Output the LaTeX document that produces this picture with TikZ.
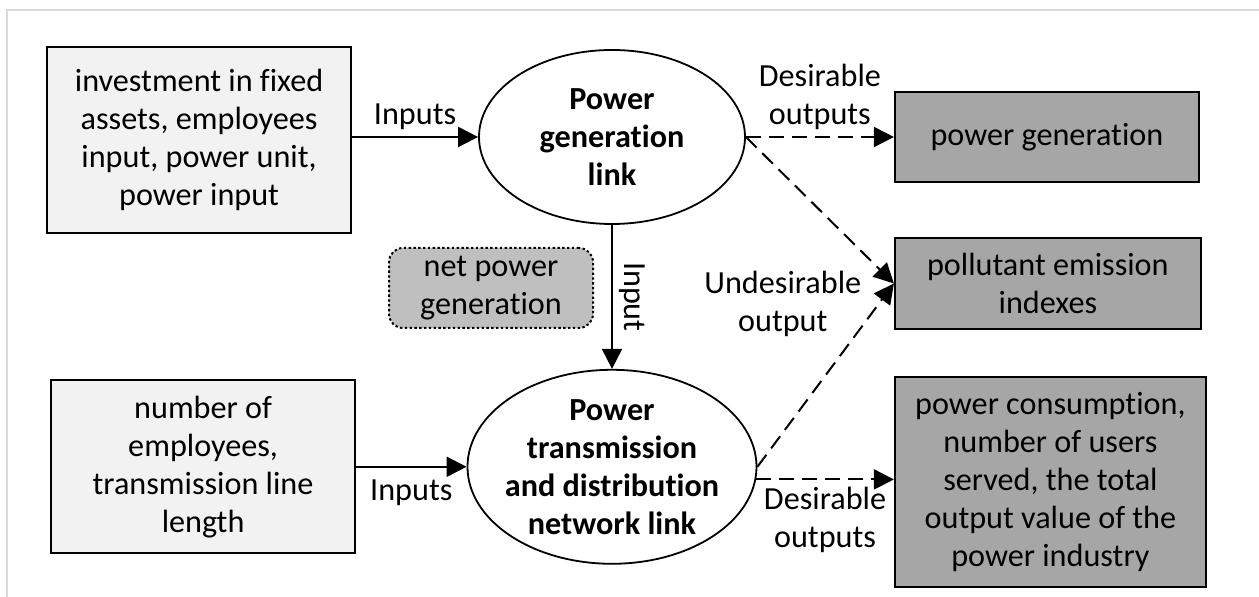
\documentclass[tikz,border=0pt]{standalone}
\usepackage{fontspec}
\setmainfont{Carlito}[Ligatures=NoCommon]
\usetikzlibrary{positioning, shapes.geometric, arrows.meta}

\definecolor{inputgray}{HTML}{F2F2F2}
\definecolor{outputgray}{HTML}{A6A6A6}
\definecolor{netgray}{HTML}{BFBFBF}
\definecolor{framegray}{HTML}{D9D9D9}

\begin{document}
\begin{tikzpicture}[x=0.5pt, y=-0.5pt, font=\fontsize{16.1}{19}\selectfont,
  inbox/.style={draw, line width=1pt, rectangle, fill=inputgray, align=center, minimum width=152pt, inner sep=0pt},
  outbox/.style={draw, line width=1pt, rectangle, fill=outputgray, align=center, inner sep=0pt},
  linknode/.style={draw, line width=0.9pt, ellipse, align=center, inner sep=-4pt, font=\fontsize{16.1}{19}\selectfont\bfseries},
  netbox/.style={draw, line width=1pt, rectangle, rounded corners=7pt, dash pattern=on 1.2pt off 1.2pt, fill=netgray, align=center, minimum width=102pt, minimum height=40pt},
  flow/.style={-{Triangle[length=10pt, width=10pt]}, line width=1pt},
  dflow/.style={flow, dash pattern=on 7.5pt off 4pt}]
  \useasboundingbox (0,0) rectangle (1259,597);
  \draw[framegray, line width=1pt] (7,597) -- (7,10) -- (1259,10);

  % the two links
  \node[linknode, minimum width=133pt, minimum height=87pt] (gen) at (612,137) {Power\\generation\\link};
  \node[linknode, minimum width=144.5pt, minimum height=97pt] (grid) [below=72pt of gen] {Power\\transmission\\and distribution\\network link};

  % inputs
  \node[inbox, minimum height=93pt] (genin) [left=63pt of gen, yshift=-1.5pt] {investment in fixed\\assets, employees\\input, power unit,\\power input};
  \node[inbox, minimum height=86.5pt] (gridin) [left=55.25pt of grid] {number of\\employees,\\transmission line\\length};
  \node[netbox] (net) at (491,288) {net power\\generation};

  % outputs
  \node[outbox, minimum width=152pt, minimum height=45pt] (genout) [right=74pt of gen] {power generation};
  \node[outbox, minimum width=153pt, minimum height=45.5pt] (pollut) [below=27pt of genout.south west, anchor=north west] {pollutant emission\\indexes};
  \node[outbox, minimum width=155.5pt, minimum height=105pt] (gridout) [below=23pt of pollut.south west, anchor=north west] {power consumption,\\number of users\\served, the total\\output value of the\\power industry};

  \draw[flow] (genin.east |- gen.west) -- node[midway, above] {Inputs} (gen.west);
  \draw[flow] (gridin.east) -- node[midway, below=2.5pt] {Inputs} (grid.west);
  \draw[flow] (gen.south) -- node[midway, sloped, above] {Input} (grid.north);
  \draw[dflow] (gen.east) -- node[midway, above, align=center] {Desirable\\outputs} (genout.west);
  \draw[dflow] (gen.east) -- (pollut.west);
  \draw[dflow] (grid.east) -- node[pos=0.89, left=5pt, align=center] {Undesirable\\output} (pollut.west);
  \draw[dflow] (grid.-5) -- node[midway, below, align=center] {Desirable\\outputs} (grid.-5 -| gridout.west);
\end{tikzpicture}
\end{document}
